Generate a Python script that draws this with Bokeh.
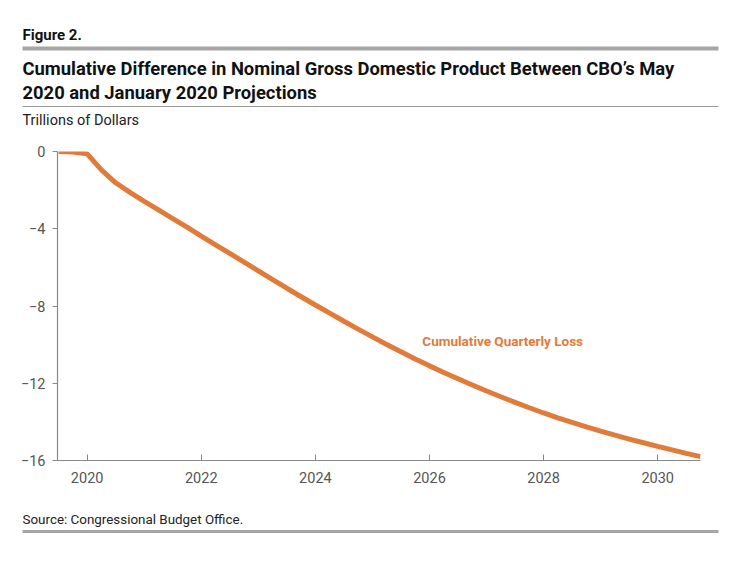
from bokeh.plotting import figure
from bokeh.layouts import column
from bokeh.models import Label, FixedTicker, Range1d
from bokeh.core.properties import value
from bokeh.embed import file_html
from bokeh.resources import INLINE

quarters = [2019.5, 2019.75,
            2020.0, 2020.25, 2020.5, 2020.75,
            2021.0, 2021.25, 2021.5, 2021.75,
            2022.0, 2022.25, 2022.5, 2022.75,
            2023.0, 2023.25, 2023.5, 2023.75,
            2024.0, 2024.25, 2024.5, 2024.75,
            2025.0, 2025.25, 2025.5, 2025.75,
            2026.0, 2026.25, 2026.5, 2026.75,
            2027.0, 2027.25, 2027.5, 2027.75,
            2028.0, 2028.25, 2028.5, 2028.75,
            2029.0, 2029.25, 2029.5, 2029.75,
            2030.0, 2030.25, 2030.5, 2030.75]
cumulative_loss = [0.00, -0.03,
                   -0.12, -0.95, -1.62, -2.12,
                   -2.58, -3.02, -3.47, -3.92,
                   -4.38, -4.83, -5.28, -5.73,
                   -6.18, -6.63, -7.08, -7.52,
                   -7.95, -8.37, -8.79, -9.20,
                   -9.60, -9.99, -10.37, -10.74,
                   -11.10, -11.44, -11.77, -12.09,
                   -12.40, -12.70, -12.99, -13.27,
                   -13.54, -13.79, -14.03, -14.26,
                   -14.48, -14.69, -14.89, -15.08,
                   -15.27, -15.45, -15.63, -15.80]
x_ticks = [2020, 2022, 2024, 2026, 2028, 2030]
y_ticks = [0, -4, -8, -12, -16]
y_tick_labels = {0: "0", -4: "\u22124", -8: "\u22128", -12: "\u221212", -16: "\u221216"}

figure_label = "Figure 2."
title_lines = ["Cumulative Difference in Nominal Gross Domestic Product Between CBO\u2019s May",
               "2020 and January 2020 Projections"]
y_axis_label = "Trillions of Dollars"
series_label = "Cumulative Quarterly Loss"
source_note = "Source: Congressional Budget Office."

FONT = "Roboto"
ORANGE = "#e07b39"
W = 733


def panel(height):
    f = figure(width=W, height=height, output_backend="svg", toolbar_location=None,
               x_range=Range1d(0, W), y_range=Range1d(height, 0),
               x_axis_type=None, y_axis_type=None, min_border=0)
    f.outline_line_color = None
    f.grid.visible = False
    f.frame_align = False
    return f


# ---- header ----
HH = 140
head = panel(HH)
head.text(x=[22], y=[34], text=[figure_label], text_font=value(FONT),
          text_font_size="15px", text_font_style="bold", text_color="#111111",
          text_baseline="middle")
head.segment(x0=[22], y0=[48], x1=[718], y1=[48], line_color="#a6a6a6", line_width=4)
head.text(x=[22, 22], y=[68, 92], text=title_lines, text_font=value(FONT),
          text_font_size="18.4px", text_font_style="bold", text_color="#111111",
          text_baseline="middle")
head.segment(x0=[22], y0=[106], x1=[718], y1=[106], line_color="#9a9a9a", line_width=1)
head.text(x=[22], y=[120], text=[y_axis_label], text_font=value(FONT),
          text_font_size="14.5px", text_color="#222222", text_baseline="middle")

# ---- main chart ----
TOP = 151 - HH
p = figure(width=W, height=500 - HH, output_backend="svg", toolbar_location=None,
           x_range=Range1d(2019.48, 2030.75), y_range=Range1d(-16, 0),
           min_border_left=57, min_border_right=W - 700, min_border_top=TOP,
           min_border_bottom=500 - HH - TOP - 309)
p.frame_align = False
p.outline_line_color = None
p.xgrid.visible = False
p.ygrid.ticker = FixedTicker(ticks=[0])
p.ygrid.grid_line_color = "#999999"
p.ygrid.grid_line_width = 1.2

for ax in (p.xaxis[0], p.yaxis[0]):
    ax.axis_line_color = "#888888"
    ax.axis_line_width = 1.2
    ax.major_tick_line_color = "#888888"
    ax.minor_tick_line_color = None
    ax.major_label_text_font = FONT
    ax.major_label_text_font_size = "14.5px"
    ax.major_label_text_color = "#555555"

p.xaxis.ticker = FixedTicker(ticks=x_ticks)
p.xaxis.major_tick_in = 6
p.xaxis.major_tick_out = 0
p.xaxis.major_label_standoff = 11
p.yaxis.ticker = FixedTicker(ticks=y_ticks)
p.yaxis.major_label_overrides = y_tick_labels
p.yaxis.major_tick_in = 0
p.yaxis.major_tick_out = 5
p.yaxis.major_label_standoff = 7

p.line(quarters, cumulative_loss, line_color=ORANGE, line_width=5)

p.add_layout(Label(x=2025.875, y=-9.79, text=series_label,
                   text_font=FONT, text_font_size="13.5px", text_font_style="bold",
                   text_color=ORANGE, text_baseline="middle"))

# ---- footer ----
FH = 45
foot = panel(FH)
foot.text(x=[22], y=[19], text=[source_note], text_font=value(FONT),
          text_font_size="13.4px", text_color="#222222", text_baseline="middle")
foot.segment(x0=[22], y0=[31], x1=[718], y1=[31], line_color="#a6a6a6", line_width=3)

layout = column(head, p, foot, spacing=0)
open("out.html", "w").write(file_html(layout, INLINE))
